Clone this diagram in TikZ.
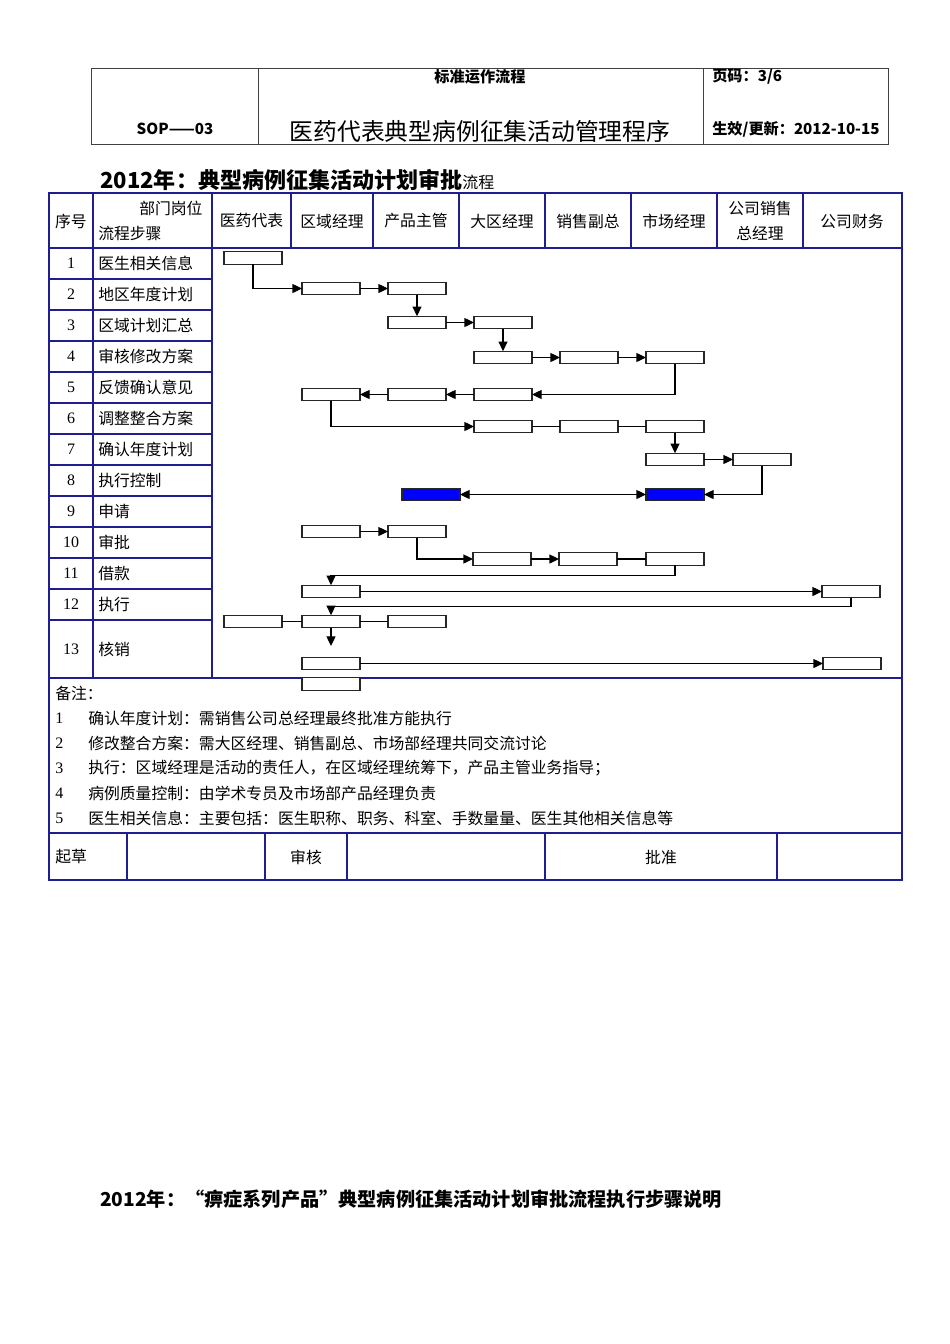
\documentclass[tikz,border=0pt]{standalone}
\usepackage{fontspec}
\setmainfont{Liberation Serif}
\newfontfamily\cjk{Noto Sans CJK SC}
\usetikzlibrary{arrows.meta, positioning}
\definecolor{tableblue}{RGB}{30,30,140}

\begin{document}
\begin{tikzpicture}[
    x=0.6263pt, y=-0.6263pt,
    >={Triangle[length=6pt, width=5.6pt]},
    every node/.style={font=\cjk\fontsize{9.9pt}{12pt}\selectfont, inner sep=0pt},
    rule/.style={draw=tableblue, line width=1pt},
    frame/.style={draw=black!75, line width=0.6pt},
    stepbox/.style={rectangle, draw=black!85, fill=white, line width=0.75pt,
        minimum width=36.3pt, minimum height=7.9pt, outer sep=0pt},
    keybox/.style={stepbox, fill=blue},
    flow/.style={draw=black, line width=0.7pt},
    num/.style={font=\rmfamily\fontsize{10pt}{12pt}\selectfont},
    head/.style={font=\cjk\bfseries\fontsize{9.5pt}{11pt}\selectfont}
]
\fill[white] (0,0) rectangle (950,1344);
\useasboundingbox (0,0) rectangle (950,1344);

% Page header
\draw[frame] (91,68) rectangle (888,144);
\draw[frame] (258,68) -- (258,144);
\draw[frame] (703,68) -- (703,144);
\node[head] (std) at (480,77) {标准运作流程};
\node[head] (sop) at (175,129) {SOP——03};
\node[font=\cjk\fontsize{14.9pt}{17pt}\selectfont] (name) at (480,131) {医药代表典型病例征集活动管理程序};
\node[head, anchor=west] (page) at (712,77) {页码：3/6};
\node[head, anchor=west] (date) at (712,129) {生效/更新：2012-10-15};

% Title
\node[anchor=west] (title) at (100,180)
    {{\bfseries\fontsize{13.8pt}{16pt}\selectfont 2012年：典型病例征集活动计划审批}{\fontsize{10pt}{12pt}\selectfont 流程}};

% Table lines
\draw[rule] (49,193) rectangle (902,880);
\draw[rule] (49,248) -- (902,248);
\draw[rule] (49,678) -- (902,678);
\draw[rule] (49,833) -- (902,833);
\foreach \x in {93,212,291,373,459,545,631,717,803}
    \draw[rule] (\x,193) -- (\x,248);
\draw[rule] (93,248) -- (93,678);
\draw[rule] (212,248) -- (212,678);
\foreach \i in {1,...,12}
    \draw[rule] (49,248+31*\i) -- (212,248+31*\i);
\foreach \x in {127,265,347,545,777}
    \draw[rule] (\x,833) -- (\x,880);

% Header row
\node (seq) at (71,221) {序号};
\node[anchor=west] (dept) at (139,208) {部门岗位};
\node[anchor=west] (steps) at (98,233) {流程步骤};
\foreach \x/\t [count=\k] in {251.5/医药代表, 332/区域经理, 416/产品主管, 502/大区经理,
        588/销售副总, 674/市场经理, 852/公司财务}
    \node (col\k) at (\x,221) {\t};
\node (gm1) at (760,208) {公司销售};
\node (gm2) at (760,233) {总经理};

% Step rows
\foreach \t [count=\i] in {医生相关信息, 地区年度计划, 区域计划汇总, 审核修改方案,
        反馈确认意见, 调整整合方案, 确认年度计划, 执行控制, 申请, 审批, 借款, 执行} {
    \node[num] (n\i) at (71,232.5+31*\i) {\i};
    \node[anchor=west] (t\i) at (98,232.5+31*\i) {\t};
}
\node[num] (n13) at (71,649) {13};
\node[anchor=west] (t13) at (98,649) {核销};

% Notes
\node[anchor=west] (notes) at (55,693) {备注：};
\foreach \t [count=\k] in {确认年度计划：需销售公司总经理最终批准方能执行,
        修改整合方案：需大区经理、销售副总、市场部经理共同交流讨论,
        执行：区域经理是活动的责任人，在区域经理统筹下，产品主管业务指导；,
        病例质量控制：由学术专员及市场部产品经理负责,
        医生相关信息：主要包括：医生职称、职务、科室、手数量量、医生其他相关信息等} {
    \node[num, anchor=west] (m\k) at (55,693+25*\k) {\k};
    \node[anchor=west] (note\k) at (88,693+25*\k) {\t};
}

% Sign-off row
\node[anchor=west] (draft) at (55,857) {起草};
\node (review) at (306,857) {审核};
\node (approve) at (661,857) {批准};

% Flow boxes
\node[stepbox] (s1) at (253,258) {};
\node[stepbox] (s2a) at (331,288.5) {};
\node[stepbox] (s2b) at (417,288.5) {};
\node[stepbox] (s3a) at (417,322.5) {};
\node[stepbox] (s3b) at (503,322.5) {};
\node[stepbox] (s4a) at (503,357.5) {};
\node[stepbox] (s4b) at (589,357.5) {};
\node[stepbox] (s4c) at (675,357.5) {};
\node[stepbox] (s5a) at (331,394.5) {};
\node[stepbox] (s5b) at (417,394.5) {};
\node[stepbox] (s5c) at (503,394.5) {};
\node[stepbox] (s6a) at (503,426.5) {};
\node[stepbox] (s6b) at (589,426.5) {};
\node[stepbox] (s6c) at (675,426.5) {};
\node[stepbox] (s7a) at (675,459.5) {};
\node[stepbox] (s7b) at (762,459.5) {};
\node[keybox] (s8a) at (431,494.5) {};
\node[keybox] (s8b) at (675,494.5) {};
\node[stepbox] (s9a) at (331,531.5) {};
\node[stepbox] (s9b) at (417,531.5) {};
\node[stepbox] (s10a) at (502,559) {};
\node[stepbox] (s10b) at (588,559) {};
\node[stepbox] (s10c) at (675,559) {};
\node[stepbox] (s11a) at (331,591.5) {};
\node[stepbox] (s11b) at (851,591.5) {};
\node[stepbox] (s12a) at (253,621.5) {};
\node[stepbox] (s12b) at (331,621.5) {};
\node[stepbox] (s12c) at (417,621.5) {};
\coordinate (e12) at (331,646);
\node[stepbox] (s13a) at (331,663.5) {};
\node[stepbox] (s13b) at (852,663.5) {};
\node[stepbox] (s14) at (331,684) {};

% Arrows for planning
\draw[flow,->] (s1) |- (s2a);
\draw[flow,->] (s2a) -- (s2b);
\draw[flow,->] (s2b) -- (s3a);
\draw[flow,->] (s3a) -- (s3b);
\draw[flow,->] (s3b) -- (s4a);
\draw[flow,->] (s4a) -- (s4b);
\draw[flow,->] (s4b) -- (s4c);
\draw[flow,->] (s4c) |- (s5c);
\draw[flow,->] (s5c) -- (s5b);
\draw[flow,->] (s5b) -- (s5a);
\draw[flow,->] (s5a) |- (s6a);
\draw[flow] (s6a) -- (s6b);
\draw[flow] (s6b) -- (s6c);
\draw[flow,->] (s6c) -- (s7a);
\draw[flow,->] (s7a) -- (s7b);
\draw[flow,->] (s7b) |- (s8b);
\draw[flow,<->] (s8a) -- (s8b);

% Arrows for execution
\draw[flow,->] (s9a) -- (s9b);
\draw[flow,->] (s9b) |- (s10a);
\draw[flow,->] (s10a) -- (s10b);
\draw[flow] (s10b) -- (s10c);
\draw[flow,->] (s10c.south) -- ++(0,10) -| (s11a.north);
\draw[flow,->] (s11a) -- (s11b);
\draw[flow,->] (s11b.south) -- ++(0,9) -| (s12b.north);
\draw[flow] (s12a) -- (s12b);
\draw[flow] (s12b) -- (s12c);
\draw[flow,->] (s12b) -- (e12);
\draw[flow,->] (s13a) -- (s13b);

% Footer title
\node[anchor=west, font=\cjk\bfseries\fontsize{12pt}{14pt}\selectfont] (foot) at (100,1199)
    {2012年：“痹症系列产品”典型病例征集活动计划审批流程执行步骤说明};

\end{tikzpicture}
\end{document}
